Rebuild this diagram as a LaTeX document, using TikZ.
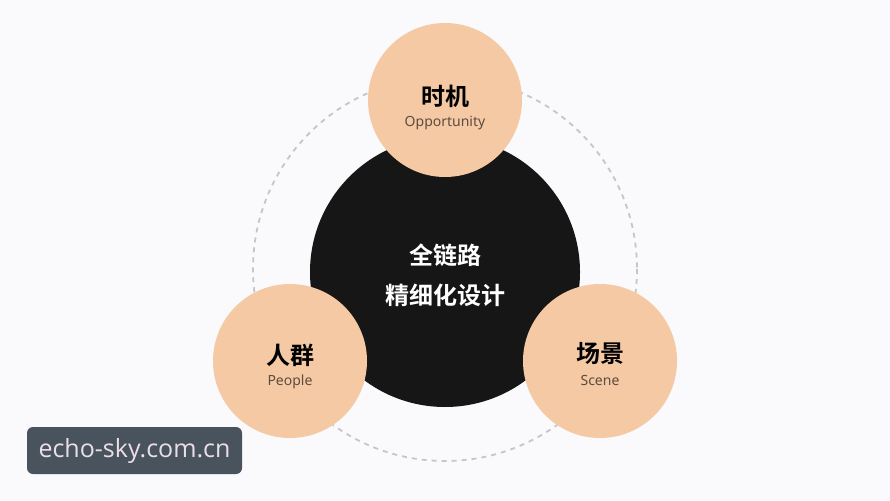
\documentclass[tikz,border=0pt]{standalone}
\usepackage{fontspec}
\setmainfont{Noto Sans}
\newfontfamily\cjk{Noto Sans CJK SC}
\newfontfamily\cjkb{Noto Sans CJK SC Bold}
\newfontfamily\wm{Open Sans}
\definecolor{bgc}{HTML}{FAF9FB}
\definecolor{peach}{HTML}{F4C9A4}
\definecolor{darkc}{HTML}{161616}
\definecolor{dashc}{HTML}{C6C6CA}
\definecolor{subc}{HTML}{5E4C40}
\definecolor{wmbox}{HTML}{49535D}
\definecolor{wmtext}{HTML}{EADFE8}
\tikzset{
  peachball/.style={circle, fill=peach, minimum size=154pt, inner sep=0pt},
  centerball/.style={circle, fill=darkc, minimum size=270pt, inner sep=0pt},
  title/.style={font=\cjkb\fontsize{24}{28}\selectfont, text=black},
  sub/.style={font=\fontsize{14}{16}\selectfont, text=subc},
  ctext/.style={font=\cjkb\fontsize{24}{28}\selectfont, text=white, align=center},
}
\begin{document}
\begin{tikzpicture}[x=1pt,y=-1pt]
\fill[bgc] (0,0) rectangle (890,500);
\useasboundingbox (0,0) rectangle (890,500);
\draw[dashc, line width=1.8pt, dash pattern=on 5pt off 5pt] (445,269) circle (192);
\node[centerball] (core) at (445,272) {};
\node[peachball] (top) at (445,100) {};
\node[peachball] (left) at (290,361) {};
\node[peachball] (right) at (600,361) {};
\node[ctext] (ct1) at (445,255) {全链路};
\node[ctext] (ct2) at (445,295) {精细化设计};
\node[title] (t1) at (445,96) {时机};
\node[sub] (s1) at (445,123) {Opportunity};
\node[title] (t2) at (290,355) {人群};
\node[sub] (s2) at (290,382) {People};
\node[title] (t3) at (600,354) {场景};
\node[sub] (s3) at (600,380) {Scene};
\node[fill=wmbox, rounded corners=6pt, minimum width=215pt, minimum height=47pt, inner sep=0pt] (wmb) at (134.5,450.5) {};
\node[font=\wm\fontsize{25}{29}\selectfont, text=wmtext] (wmt) at (wmb) {echo-sky.com.cn};
\end{tikzpicture}
\end{document}
